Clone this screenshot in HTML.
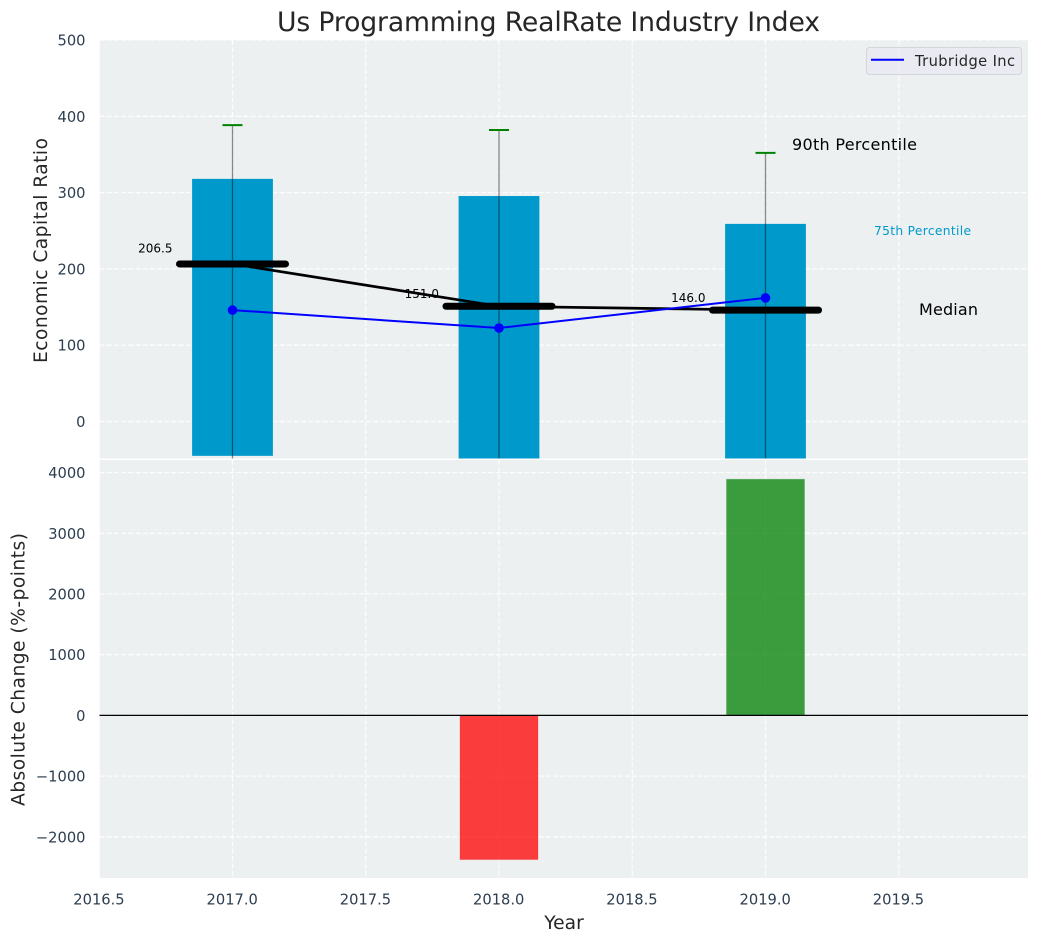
<!DOCTYPE html>
<html>
<head>
<meta charset="utf-8">
<title>Us Programming RealRate Industry Index</title>
<style>
html,body{margin:0;padding:0;background:#fff;width:1039px;height:942px;overflow:hidden}
svg{display:block;font-family:"DejaVu Sans","Liberation Sans",sans-serif}
</style>
</head>
<body>
<svg id="chart" width="1039" height="942" viewBox="0 0 1039 942" xmlns="http://www.w3.org/2000/svg">
<defs>
<clipPath id="clip-top"><rect x="99.5" y="40" width="928.5" height="418.5"/></clipPath>
<clipPath id="clip-bottom"><rect x="99.5" y="460" width="928.5" height="418"/></clipPath>
</defs>
<text x="548.5" y="31" text-anchor="middle" font-size="26.67" textLength="543" lengthAdjust="spacing" fill="#262626">Us Programming RealRate Industry Index</text>
<rect x="99.5" y="40" width="928.5" height="418.5" fill="#ecf0f1"/>
<rect x="99.5" y="460" width="928.5" height="418" fill="#ecf0f1"/>
<g id="grid"></g>
<g id="top-marks" clip-path="url(#clip-top)"></g>
<g id="bottom-marks" clip-path="url(#clip-bottom)"></g>
<g id="ticks"></g>
<text transform="translate(47,250.5) rotate(-90)" text-anchor="middle" font-size="18.67" textLength="225" lengthAdjust="spacing" fill="#262626">Economic Capital Ratio</text>
<text transform="translate(24.5,669.5) rotate(-90)" text-anchor="middle" font-size="18.67" textLength="273" lengthAdjust="spacing" fill="#262626">Absolute Change (%-points)</text>
<text x="564" y="929" text-anchor="middle" font-size="18.67" fill="#262626">Year</text>
<text x="792" y="150" font-size="16" textLength="125" lengthAdjust="spacing" fill="#000">90th Percentile</text>
<text x="874" y="235" font-size="12.27" textLength="97" lengthAdjust="spacing" fill="#0099cc">75th Percentile</text>
<text x="919" y="315" font-size="16" textLength="59" lengthAdjust="spacing" fill="#000">Median</text>
<g>
<rect x="866.5" y="47.500" width="155" height="27" rx="3" fill="#eaeaf2" fill-opacity="0.8" stroke="#d5d5d8" stroke-width="1"/>
<line x1="871" y1="59.700" x2="904" y2="59.700" stroke="#0000ff" stroke-width="2"/>
<text x="915" y="66" font-size="14.67" textLength="100" lengthAdjust="spacing" fill="#262626">Trubridge Inc</text>
</g>
</svg>
<script>
const years = [2017, 2018, 2019];
const p75 = [318, 295.5, 259];
const p25 = [-45, -60, -60];
const p90 = [388.5, 382, 352];
const p10 = [-70, -70, -70];
const medians = [206.5, 151.0, 146.0];
const medianLabels = ['206.5', '151.0', '146.0'];
const company = [146, 122.5, 162];
const changes = [0, -2375, 3890];
const xTicks = [2016.5, 2017.0, 2017.5, 2018.0, 2018.5, 2019.0, 2019.5];
const xTickLabels = ['2016.5', '2017.0', '2017.5', '2018.0', '2018.5', '2019.0', '2019.5'];
const topTicks = [0, 100, 200, 300, 400, 500];
const topTickLabels = ['0', '100', '200', '300', '400', '500'];
const bottomTicks = [-2000, -1000, 0, 1000, 2000, 3000, 4000];
const bottomTickLabels = ['\u22122000', '\u22121000', '0', '1000', '2000', '3000', '4000'];

const NS = 'http://www.w3.org/2000/svg';
const xScale = v => 232.5 + (v - 2017) * 266.5;
const yTop = v => 421.5 - v * 0.763;
const yBottom = v => 715.4 - v * 0.0607;
function mk(parent, tag, attrs, text) {
  const el = document.createElementNS(NS, tag);
  for (const k in attrs) el.setAttribute(k, attrs[k]);
  if (text !== undefined) el.textContent = text;
  parent.appendChild(el);
  return el;
}
const grid = document.getElementById('grid');
const ticks = document.getElementById('ticks');
const topG = document.getElementById('top-marks');
const botG = document.getElementById('bottom-marks');
const gridStyle = {stroke: '#ffffff', 'stroke-width': 1.3, 'stroke-dasharray': '5 2.2', 'stroke-opacity': 0.85};

xTicks.forEach((t, i) => {
  const x = xScale(t);
  const a = mk(grid, 'line', Object.assign({x1: x, x2: x, y1: 40, y2: 458.5}, gridStyle));
  
  
  const b = mk(grid, 'line', Object.assign({x1: x, x2: x, y1: 460, y2: 878}, gridStyle));
  
  
  const l = mk(ticks, 'text', {x: x - 0.3, y: 904.5, 'text-anchor': 'middle', 'font-size': 14.67, fill: '#2c3e50'}, xTickLabels[i]);
  
  
});
topTicks.forEach((t, i) => {
  const y = yTop(t);
  const g = mk(grid, 'line', Object.assign({x1: 99.5, x2: 1028, y1: y, y2: y}, gridStyle));
  
  
  const l = mk(ticks, 'text', {x: 85.5, y: y + 5.5, 'text-anchor': 'end', 'font-size': 14.67, fill: '#2c3e50'}, topTickLabels[i]);
  
  
});
bottomTicks.forEach((t, i) => {
  const y = yBottom(t);
  const g = mk(grid, 'line', Object.assign({x1: 99.5, x2: 1028, y1: y, y2: y}, gridStyle));
  
  
  const l = mk(ticks, 'text', {x: 85.5, y: y + 5.5, 'text-anchor': 'end', 'font-size': 14.67, fill: '#2c3e50'}, bottomTickLabels[i]);
  
  
});

years.forEach((yr, i) => {
  const x = xScale(yr);
  const top = yTop(p75[i]);
  const bar = mk(topG, 'rect', {x: x - 40.4, y: top, width: 80.8, height: yTop(p25[i]) - top, fill: '#0099cc'});
  
  
});
years.forEach((yr, i) => {
  const x = xScale(yr);
  const w = mk(topG, 'line', {x1: x, x2: x, y1: yTop(p90[i]), y2: yTop(p10[i]), stroke: '#000', 'stroke-opacity': 0.45, 'stroke-width': 1.3});
  
  
  const c = mk(topG, 'line', {x1: x - 10, x2: x + 10, y1: yTop(p90[i]), y2: yTop(p90[i]), stroke: '#008000', 'stroke-width': 2});
  
  
});
const medianLine = mk(topG, 'polyline', {points: years.map((yr, i) => xScale(yr) + ',' + yTop(medians[i])).join(' '), fill: 'none', stroke: '#000', 'stroke-width': 2.7});


years.forEach((yr, i) => {
  const x = xScale(yr);
  const y = yTop(medians[i]);
  const m = mk(topG, 'line', {x1: x - 53, x2: x + 53, y1: y, y2: y, stroke: '#000', 'stroke-width': 7, 'stroke-linecap': 'round'});
  
  
  const t = mk(topG, 'text', {x: x - 60, y: yTop(medians[i] * 1.07) - 0.3, 'text-anchor': 'end', 'font-size': 12, fill: '#000'}, medianLabels[i]);
  
  
});
const companyLine = mk(topG, 'polyline', {points: years.map((yr, i) => xScale(yr) + ',' + yTop(company[i])).join(' '), fill: 'none', stroke: '#0000ff', 'stroke-width': 2});


years.forEach((yr, i) => {
  const p = mk(topG, 'circle', {cx: xScale(yr), cy: yTop(company[i]), r: 4.8, fill: '#0000ff'});
  
  
});

years.forEach((yr, i) => {
  if (changes[i] === 0) return;
  const x = xScale(yr);
  const y0 = yBottom(0);
  const y1 = yBottom(changes[i]);
  const color = changes[i] < 0 ? '#ff0000' : '#008000';
  const b = mk(botG, 'rect', {x: x - 39, y: Math.min(y0, y1), width: 78, height: Math.abs(y1 - y0), fill: color, 'fill-opacity': 0.75, stroke: color, 'stroke-opacity': 0.2, 'stroke-width': 1});
  
  
});
const zero = mk(botG, 'line', {x1: 99.5, x2: 1028, y1: yBottom(0), y2: yBottom(0), stroke: '#000', 'stroke-width': 1.3});


</script>
</body>
</html>
